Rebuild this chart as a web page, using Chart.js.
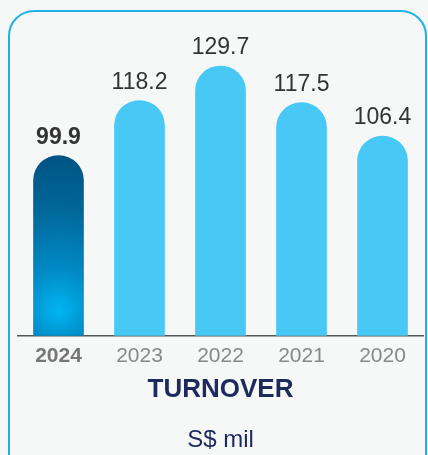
<!DOCTYPE html>
<html>
<head>
<meta charset="utf-8">
<script src="https://cdn.jsdelivr.net/npm/chart.js@4/dist/chart.umd.min.js"></script>
<style>
    html, body { margin: 0; padding: 0; background: #f6f7f7; }
    .card {
        position: absolute;
        left: 8px; top: 10px;
        width: 419px; height: 470px;
        border: 2px solid #1fb2ea;
        border-radius: 26px;
        box-sizing: border-box;
    }
    .wrap { position: absolute; left: 0; top: 0; width: 428px; height: 455px; }
</style>
</head>
<body>
<div class="card"></div>
<div class="wrap"><canvas id="turnoverChart" width="428" height="455"></canvas></div>
<script>
const YEARS = ["2024", "2023", "2022", "2021", "2020"];
const TURNOVER = [99.9, 118.2, 129.7, 117.5, 106.4];
const TITLE = "TURNOVER";
const UNIT = "S$ mil";

const FONT = "'Liberation Sans', Arial, Helvetica, sans-serif";

// current year bar gets the dark gradient, older years flat light blue
function barFill(context) {
    if (context.dataIndex !== 0) return "#47c8f5";
    const chart = context.chart;
    const area = chart.chartArea;
    const xScale = chart.scales.x;
    if (!area || !xScale) return "#005a8c";
    const cx = xScale.getPixelForValue(0);
    const bottom = area.bottom;
    if (!isFinite(cx) || !isFinite(bottom)) return "#005a8c";
    const g = chart.ctx.createRadialGradient(cx, bottom - 24, 2, cx, bottom - 60, 200);
    g.addColorStop(0, "#00b4f0");
    g.addColorStop(0.18, "#0089c4");
    g.addColorStop(0.45, "#006597");
    g.addColorStop(0.75, "#004d7c");
    g.addColorStop(1, "#003f69");
    return g;
}

const valueLabels = {
    id: "valueLabels",
    afterDatasetsDraw(chart) {
        const ctx = chart.ctx;
        const meta = chart.getDatasetMeta(0);
        ctx.save();
        ctx.textAlign = "center";
        ctx.textBaseline = "alphabetic";
        meta.data.forEach((bar, i) => {
            ctx.fillStyle = "#333333";
            ctx.font = (i === 0 ? "bold " : "") + "23px " + FONT;
            ctx.fillText(TURNOVER[i].toFixed(1), bar.x, bar.y - 12);
        });
        ctx.restore();
    },
};

new Chart(document.getElementById("turnoverChart"), {
    type: "bar",
    data: {
        labels: YEARS,
        datasets: [{
            data: TURNOVER,
            backgroundColor: barFill,
            borderRadius: 25,
            borderSkipped: false,
            barThickness: 50,
        }],
    },
    options: {
        responsive: false,
        animation: false,
        layout: { padding: { left: 18, right: 5, top: 35, bottom: 0 } },
        scales: {
            x: {
                grid: { display: false, drawTicks: false },
                border: { display: true, color: "#555555", width: 1.5 },
                ticks: {
                    padding: 8,
                    color: (c) => c.index === 0 ? "#777777" : "#888888",
                    font: (c) => ({ family: FONT, size: 21, weight: c.index === 0 ? "bold" : "normal" }),
                },
            },
            y: {
                display: false,
                min: 40,
                max: 140,
            },
        },
        plugins: {
            legend: { display: false },
            tooltip: { enabled: false },
            title: {
                display: true,
                text: TITLE,
                position: "bottom",
                weight: 1000,
                color: "#1e2a5e",
                font: { family: FONT, size: 26, weight: "bold" },
                padding: { top: -3, bottom: 11 },
            },
            subtitle: {
                display: true,
                text: UNIT,
                position: "bottom",
                weight: 3000,
                color: "#1e2a5e",
                font: { family: FONT, size: 24, weight: "normal" },
                padding: { top: 10, bottom: 0 },
            },
        },
    },
    plugins: [valueLabels],
});
</script>
</body>
</html>
